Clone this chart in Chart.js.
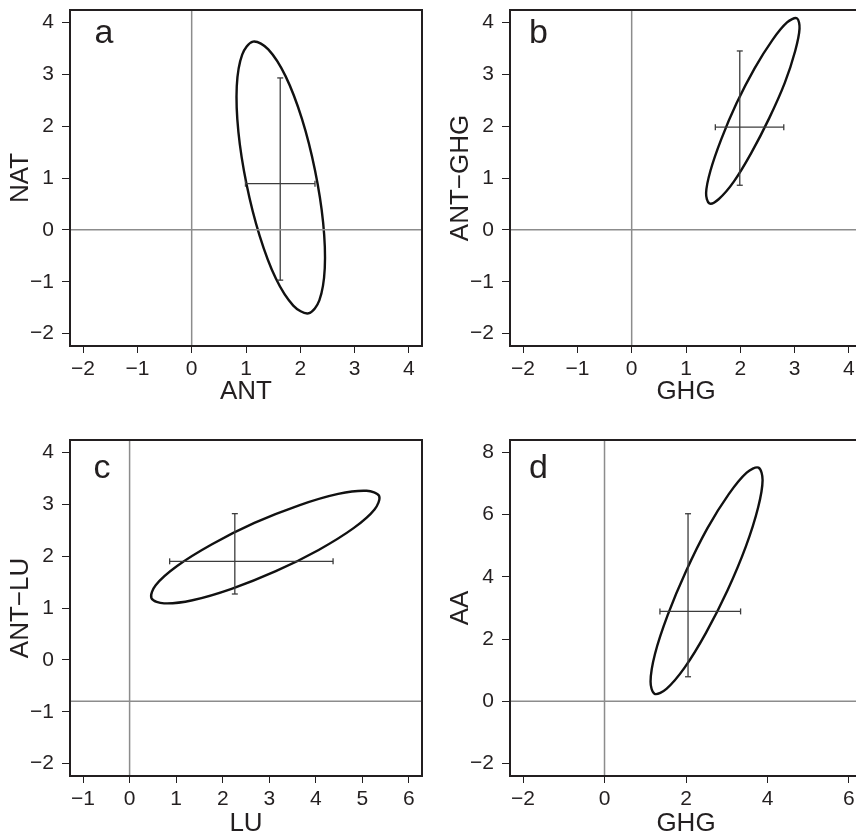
<!DOCTYPE html>
<html>
<head>
<meta charset="utf-8">
<script src="https://cdn.jsdelivr.net/npm/chart.js@4.4.1/dist/chart.umd.min.js"></script>
<style>
  html, body { margin: 0; padding: 0; background: #fff; overflow: hidden; }
  body { width: 856px; height: 836px; position: relative; }
  canvas { position: absolute; }
  #panelA { left: 0; top: 0; }
  #panelB { left: 426px; top: 0; }
  #panelC { left: 0; top: 416px; }
  #panelD { left: 426px; top: 416px; }
</style>
</head>
<body>
<canvas id="panelA" width="428" height="416"></canvas>
<canvas id="panelB" width="440" height="416"></canvas>
<canvas id="panelC" width="428" height="440"></canvas>
<canvas id="panelD" width="440" height="440"></canvas>
<script>
// Tick values per panel
const ticksAx = [-2, -1, 0, 1, 2, 3, 4];
const ticksAy = [-2, -1, 0, 1, 2, 3, 4];
const ticksBx = [-2, -1, 0, 1, 2, 3, 4];
const ticksBy = [-2, -1, 0, 1, 2, 3, 4];
const ticksCx = [-1, 0, 1, 2, 3, 4, 5, 6];
const ticksCy = [-2, -1, 0, 1, 2, 3, 4];
const ticksDx = [-2, 0, 2, 4, 6];
const ticksDy = [-2, 0, 2, 4, 6, 8];

// Axis names and panel letters
const panelLetters = ["a", "b", "c", "d"];
const xTitles = ["ANT", "GHG", "LU", "GHG"];
const yTitles = ["NAT", "ANT\u2212GHG", "ANT\u2212LU", "AA"];

// Zero / reference lines (vertical at x, horizontal at y)
const refLineX = [0, 0, 0, 0];
const refLineY = [0, 0, -0.8, 0];

// Ellipse outlines, points read around the curve [x, y]
const ellipseA = [[2.15, -1.61], [2.35, -1.36], [2.45, -0.74], [2.42, 0.14], [2.27, 1.15], [2.03, 2.14],
  [1.73, 2.96], [1.41, 3.48], [1.13, 3.63], [0.93, 3.38], [0.83, 2.77], [0.86, 1.89],
  [1.01, 0.88], [1.25, -0.11], [1.55, -0.94], [1.87, -1.46]];
const ellipseB = [[3.04, 4.08], [3.09, 3.88], [3.01, 3.45], [2.82, 2.84], [2.53, 2.15], [2.20, 1.48],
  [1.88, 0.93], [1.60, 0.59], [1.43, 0.51], [1.37, 0.71], [1.45, 1.14], [1.65, 1.75],
  [1.93, 2.44], [2.26, 3.11], [2.59, 3.66], [2.86, 4.00]];
const ellipseC = [[5.36, 3.16], [5.26, 2.90], [4.81, 2.54], [4.06, 2.12], [3.14, 1.71], [2.19, 1.37],
  [1.35, 1.15], [0.74, 1.09], [0.47, 1.19], [0.56, 1.44], [1.02, 1.81], [1.77, 2.23],
  [2.68, 2.64], [3.64, 2.98], [4.48, 3.20], [5.09, 3.26]];
const ellipseD = [[3.78, 7.51], [3.88, 7.11], [3.77, 6.23], [3.47, 4.98], [3.02, 3.57], [2.49, 2.20],
  [1.97, 1.09], [1.52, 0.40], [1.23, 0.24], [1.13, 0.64], [1.24, 1.53], [1.55, 2.77],
  [2.00, 4.18], [2.52, 5.55], [3.05, 6.66], [3.49, 7.35]];

// Error crosses: [centre x, centre y, x low, x high, y low, y high]
const crossA = [1.63, 0.89, 0.99, 2.27, -0.97, 2.93];
const crossB = [1.99, 1.98, 1.54, 2.80, 0.86, 3.45];
const crossC = [2.26, 1.90, 0.86, 4.37, 1.27, 2.82];
const crossD = [2.05, 2.89, 1.36, 3.34, 0.79, 6.03];

const FONT = "'Liberation Sans', Arial, Helvetica, sans-serif";
const INK = "#231f20";
const REF_GREY = "#8c8c8c";
const BAR_GREY = "#3c3c3c";

// R-style axis range: 4% beyond the outer ticks
function rangeOf(ticks) {
  const span = ticks[ticks.length - 1] - ticks[0];
  return [ticks[0] - 0.04 * span, ticks[ticks.length - 1] + 0.04 * span];
}

function fmt(v) {
  return v < 0 ? "\u2212" + Math.abs(v) : String(v);
}

// Close the outline: wrap one point on each side so the spline is smooth at the join
function closedLoop(pts) {
  const n = pts.length;
  const seq = [pts[n - 1]].concat(pts, [pts[0], pts[1]]);
  return seq.map((p) => ({ x: p[0], y: p[1] }));
}

// Frame around the plot area and the panel letter
const framePlugin = {
  id: "frame",
  afterDatasetsDraw(chart, args, opts) {
    const { ctx, chartArea: a } = chart;
    ctx.save();
    ctx.strokeStyle = INK;
    ctx.lineWidth = 2;
    ctx.strokeRect(a.left, a.top, a.right - a.left, a.bottom - a.top);
    ctx.fillStyle = INK;
    ctx.font = "34px " + FONT;
    ctx.textAlign = "left";
    ctx.textBaseline = "alphabetic";
    ctx.fillText(opts.letter, a.left + opts.letterX, a.top + opts.letterY);
    ctx.restore();
  },
};

function makePanel(id, idx, xt, yt, ellipse, cross, geo) {
  const [xMin, xMax] = rangeOf(xt);
  const [yMin, yMax] = rangeOf(yt);
  const loopPts = closedLoop(ellipse);
  const lastSeg = ellipse.length + 1;
  const [cx, cy, xLo, xHi, yLo, yHi] = cross;

  const tickFont = { family: FONT, size: 21 };
  const titleFont = { family: FONT, size: 26 };

  return new Chart(document.getElementById(id), {
    type: "scatter",
    data: {
      datasets: [
        {
          // vertical zero line
          data: [{ x: refLineX[idx], y: -100 }, { x: refLineX[idx], y: 100 }],
          showLine: true,
          borderColor: REF_GREY,
          borderWidth: 1.5,
          pointRadius: 0,
        },
        {
          // horizontal reference line
          data: [{ x: -100, y: refLineY[idx] }, { x: 100, y: refLineY[idx] }],
          showLine: true,
          borderColor: REF_GREY,
          borderWidth: 1.5,
          pointRadius: 0,
        },
        {
          // vertical error bar
          data: [{ x: cx, y: yLo }, { x: cx, y: yHi }],
          showLine: true,
          borderColor: BAR_GREY,
          borderWidth: 1.3,
          pointStyle: "line",
          pointRadius: 3,
          pointRotation: 0,
          pointBorderColor: BAR_GREY,
          pointBorderWidth: 1.3,
        },
        {
          // horizontal error bar
          data: [{ x: xLo, y: cy }, { x: xHi, y: cy }],
          showLine: true,
          borderColor: BAR_GREY,
          borderWidth: 1.3,
          pointStyle: "line",
          pointRadius: 3,
          pointRotation: 90,
          pointBorderColor: BAR_GREY,
          pointBorderWidth: 1.3,
        },
        {
          // ellipse
          data: loopPts,
          showLine: true,
          borderColor: "#111",
          borderWidth: 2.4,
          borderCapStyle: "round",
          borderJoinStyle: "round",
          tension: 0.34,
          pointRadius: 0,
          segment: {
            borderColor: (ctx) =>
              ctx.p0DataIndex === 0 || ctx.p0DataIndex === lastSeg ? "rgba(0,0,0,0)" : "#111",
          },
        },
      ],
    },
    options: {
      responsive: false,
      animation: false,
      events: [],
      layout: { autoPadding: false, padding: geo.pad },
      plugins: {
        legend: { display: false },
        tooltip: { enabled: false },
        frame: { letter: panelLetters[idx], letterX: geo.letterX, letterY: geo.letterY },
      },
      scales: {
        x: {
          type: "linear",
          min: xMin,
          max: xMax,
          afterBuildTicks: (s) => { s.ticks = xt.map((v) => ({ value: v })); },
          afterFit: (s) => {
            s.height = geo.xH;
            s.paddingLeft = 0;
            s.paddingRight = 0;
          },
          ticks: { font: tickFont, color: INK, padding: 4, maxRotation: 0, autoSkip: false, callback: (v) => fmt(v) },
          grid: { drawOnChartArea: false, drawTicks: true, tickLength: 7, color: INK, lineWidth: 1 },
          border: { display: false },
          title: { display: true, text: xTitles[idx], font: titleFont, color: INK, padding: { top: 0, bottom: geo.xTitlePad } },
        },
        y: {
          type: "linear",
          min: yMin,
          max: yMax,
          afterBuildTicks: (s) => { s.ticks = yt.map((v) => ({ value: v })); },
          afterFit: (s) => {
            s.width = geo.yW;
            s.paddingTop = 0;
            s.paddingBottom = 0;
          },
          ticks: { font: tickFont, color: INK, padding: 8, autoSkip: false, callback: (v) => fmt(v) },
          grid: { drawOnChartArea: false, drawTicks: true, tickLength: 8, color: INK, lineWidth: 1 },
          border: { display: false },
          title: { display: true, text: yTitles[idx], font: titleFont, color: INK, padding: { top: geo.yTitlePad, bottom: 0 } },
        },
      },
    },
    plugins: [framePlugin],
  });
}

makePanel("panelA", 0, ticksAx, ticksAy, ellipseA, crossA, {
  pad: { left: 0, top: 10, right: 6, bottom: 0 }, yW: 70, xH: 70, xTitlePad: 8.4, yTitlePad: 5.4, letterX: 24.5, letterY: 33,
});
makePanel("panelB", 1, ticksBx, ticksBy, ellipseB, crossB, {
  pad: { left: 0, top: 10, right: 4, bottom: 0 }, yW: 84, xH: 70, xTitlePad: 8.4, yTitlePad: 19.4, letterX: 19, letterY: 33,
});
makePanel("panelC", 2, ticksCx, ticksCy, ellipseC, crossC, {
  pad: { left: 0, top: 24, right: 6, bottom: 0 }, yW: 70, xH: 80, xTitlePad: 17, yTitlePad: 5.4, letterX: 23.5, letterY: 37.5,
});
makePanel("panelD", 3, ticksDx, ticksDy, ellipseD, crossD, {
  pad: { left: 0, top: 24, right: 4, bottom: 0 }, yW: 84, xH: 80, xTitlePad: 17, yTitlePad: 19.4, letterX: 19, letterY: 37.5,
});
</script>
</body>
</html>
